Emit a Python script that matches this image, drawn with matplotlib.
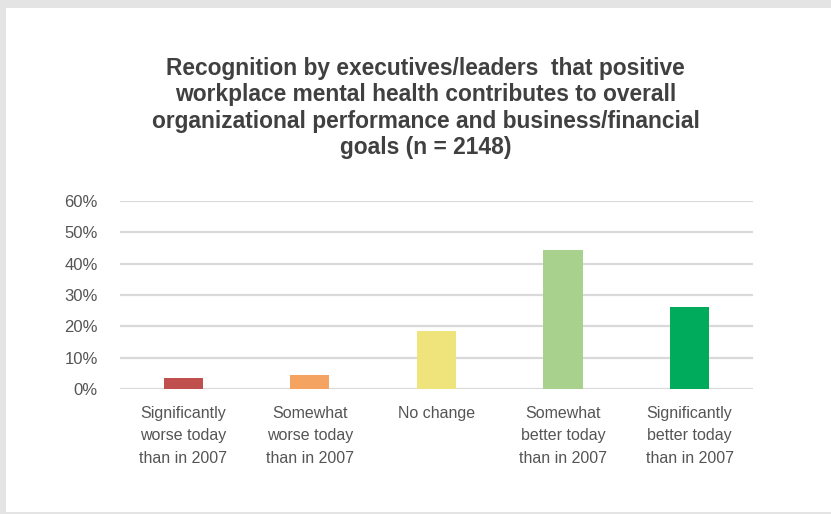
import matplotlib.pyplot as plt
from matplotlib.patches import Rectangle
from matplotlib.ticker import PercentFormatter

plt.rcParams['font.family'] = ['Liberation Sans', 'DejaVu Sans']

categories = [
    'Significantly\nworse today\nthan in 2007',
    'Somewhat\nworse today\nthan in 2007',
    'No change',
    'Somewhat\nbetter today\nthan in 2007',
    'Significantly\nbetter today\nthan in 2007',
]
shares = [0.036, 0.045, 0.186, 0.443, 0.263]
bar_colors = ['#c0504d', '#f4a460', '#efe47c', '#a9d18e', '#00ac5c']
y_ticks = [0, 0.1, 0.2, 0.3, 0.4, 0.5, 0.6]

title = ('Recognition by executives/leaders  that positive\n'
         'workplace mental health contributes to overall\n'
         'organizational performance and business/financial\n'
         'goals (n = 2148)')

fig = plt.figure(figsize=(8.31, 5.14), dpi=100, facecolor='#e4e4e4')
# white card on a grey backdrop
card = Rectangle((0.007, 0.004), 0.993, 0.98, transform=fig.transFigure,
                 facecolor='white', edgecolor='none', zorder=-10)
fig.add_artist(card)

ax = fig.add_axes([0.1444, 0.2432, 0.7616, 0.3658])
ax.set_zorder(1)
ax.set_facecolor('none')
x = range(len(categories))
ax.bar(x, shares, width=0.31, color=bar_colors, zorder=3)

ax.set_xlim(-0.5, len(categories) - 0.5)
ax.set_ylim(0, 0.6)
ax.set_yticks(y_ticks)
ax.yaxis.set_major_formatter(PercentFormatter(1.0, decimals=0))
ax.grid(axis='y', color='#d9d9d9', linewidth=1.6, zorder=0)
for s in ax.spines.values():
    s.set_visible(False)
ax.set_xticks(list(x))
ax.set_xticklabels(categories, fontsize=11.5, color='#555555', linespacing=1.65)
ax.tick_params(axis='y', length=0, pad=16, labelsize=12, labelcolor='#555555')
ax.tick_params(axis='x', length=0, pad=12)

fig.text(0.512, 0.889, title, ha='center', va='top', fontsize=16.4, fontweight='bold',
         color='#404040', linespacing=1.19)

fig.savefig('out.png', dpi=100, facecolor=fig.get_facecolor())
